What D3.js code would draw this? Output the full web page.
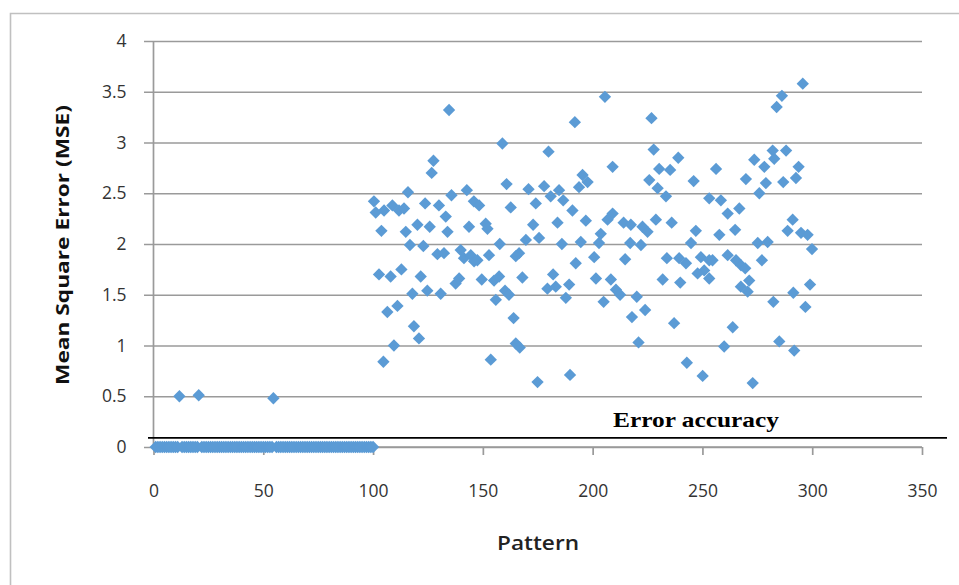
<!DOCTYPE html>
<html>
<head>
<meta charset="utf-8">
<script src="https://cdn.jsdelivr.net/npm/d3@7/dist/d3.min.js"></script>
<style>
  html, body { margin: 0; padding: 0; background: #fff; }
  svg { display: block; }
</style>
</head>
<body>
<svg id="chart" width="959" height="585"></svg>
<script>
// ---------------- DATA ----------------
const xTicks = [0, 50, 100, 150, 200, 250, 300, 350];
const yTicks = [0, 0.5, 1, 1.5, 2, 2.5, 3, 3.5, 4];

// patterns 1..100 that converged to (practically) zero error
const zeroPatterns = [1,2,3,4,5,6,7,8,9,10,11,13,14,15,16,17,18,19,20,22,23,24,25,26,27,28,29,30,
  31,32,33,34,35,36,37,38,39,40,41,42,43,44,45,46,47,48,49,50,51,52,53,54,56,57,58,59,60,
  61,62,63,64,65,66,67,68,69,70,71,72,73,74,75,76,77,78,79,80,81,82,83,84,85,86,87,88,89,90,
  91,92,93,94,95,96,97,98,99,100];
const zeroMse = zeroPatterns.map(() => 0);

// the few early patterns with a small error
const lowPatterns = [11.8, 20.6, 54.6];
const lowMse = [0.50, 0.51, 0.48];

// patterns 101..300
const patterns = [
  134.6,127.5,126.7,115.9,135.7,142.7,145.9,100.4,101.2,105.0,108.8,111.8,114.1,123.7,130.0,133.1,
  103.8,114.9,120.2,125.8,133.9,143.7,116.8,122.9,129.3,132.3,139.9,141.4,144.5,146.0,102.7,108.0,
  112.9,121.7,137.6,139.2,117.9,124.7,130.8,106.5,111.1,118.6,120.9,109.5,104.7,
  191.9,158.9,179.9,160.8,170.8,177.9,184.7,195.4,197.7,193.8,148.3,162.7,174.1,180.9,186.6,190.8,
  151.3,152.1,172.9,184.0,196.9,157.7,169.6,175.6,186.0,194.6,152.8,147.5,166.5,165.0,192.3,200.7,
  149.5,155.1,157.4,168.0,182.0,179.4,183.2,189.3,201.5,155.9,160.1,161.9,187.8,164.0,165.0,166.8,
  153.6,174.9,189.7,
  205.6,226.8,227.8,239.0,209.1,230.3,235.3,225.8,246.0,229.6,233.4,253.1,209.1,206.8,214.1,217.4,
  222.7,225.0,228.8,236.0,247.0,203.7,202.9,217.1,222.0,244.8,214.8,233.8,239.4,242.5,249.3,250.8,
  247.8,208.3,231.9,239.9,210.6,212.5,220.1,205.0,223.9,217.9,237.1,220.9,242.9,250.1,
  295.7,286.2,283.8,282.0,288.1,273.6,278.2,282.7,293.8,256.2,269.8,278.9,286.8,292.6,275.9,258.4,
  261.5,266.8,264.9,291.1,288.8,294.9,297.9,257.7,275.2,279.7,299.9,253.1,254.6,261.5,265.3,267.6,
  269.5,277.1,253.1,271.3,267.5,270.6,299.0,282.3,291.4,296.9,263.8,259.9,285.0,291.8,272.9
];
const mse = [
  3.32,2.82,2.70,2.51,2.48,2.53,2.42,2.42,2.31,2.33,2.38,2.33,2.35,2.40,2.38,2.27,
  2.13,2.12,2.19,2.17,2.12,2.17,1.99,1.98,1.90,1.91,1.94,1.86,1.89,1.83,1.70,1.68,
  1.75,1.68,1.61,1.66,1.51,1.54,1.51,1.33,1.39,1.19,1.07,1.00,0.84,
  3.20,2.99,2.91,2.59,2.54,2.57,2.53,2.68,2.61,2.56,2.38,2.36,2.40,2.47,2.43,2.33,
  2.20,2.15,2.19,2.21,2.23,2.00,2.04,2.06,2.00,2.02,1.89,1.84,1.91,1.88,1.81,1.87,
  1.65,1.64,1.68,1.67,1.70,1.56,1.58,1.60,1.66,1.45,1.54,1.50,1.47,1.27,1.02,0.98,
  0.86,0.64,0.71,
  3.45,3.24,2.93,2.85,2.76,2.74,2.73,2.63,2.62,2.55,2.47,2.45,2.30,2.24,2.21,2.19,
  2.17,2.12,2.24,2.21,2.13,2.10,2.01,2.01,1.99,2.01,1.85,1.86,1.86,1.81,1.87,1.74,
  1.71,1.65,1.65,1.62,1.55,1.50,1.48,1.43,1.35,1.28,1.22,1.03,0.83,0.70,
  3.58,3.46,3.35,2.92,2.92,2.83,2.76,2.84,2.76,2.74,2.64,2.60,2.61,2.65,2.50,2.43,
  2.30,2.35,2.14,2.24,2.13,2.11,2.09,2.09,2.01,2.02,1.95,1.84,1.84,1.89,1.84,1.79,
  1.76,1.84,1.66,1.64,1.58,1.53,1.60,1.43,1.52,1.38,1.18,0.99,1.04,0.95,0.63
];

const xTitle = "Pattern";
const yTitle = "Mean Square Error (MSE)";
const annotation = "Error accuracy";
const annotationLevel = 0.09;   // level of the black threshold line, in MSE units

// ---------------- CHART ----------------
const svg = d3.select("#chart");
const W = 959, H = 585;
const plot = { left: 153.5, right: 922, top: 41, bottom: 447 };

const x = d3.scaleLinear().domain([0, 350]).range([plot.left, plot.right]);
const y = d3.scaleLinear().domain([0, 4]).range([plot.bottom, plot.top]);

const gridColor = "#9a9a9a";
const labelFont = "'Open Sans', 'Noto Sans', sans-serif";
const tickFontSize = 17.5;

// outer chart border
svg.append("path")
  .attr("d", `M10.5,${H + 2} V13.5 H${W + 2}`)
  .attr("fill", "none")
  .attr("stroke", "#c0c0c0")
  .attr("stroke-width", 1.6);

// horizontal gridlines (with tick stubs to the left)
const yAxis = d3.axisLeft(y).tickValues(yTicks).tickSize(-(plot.right - plot.left))
  .tickFormat(d3.format("~g"));
const gy = svg.append("g").attr("transform", `translate(${plot.left},0)`).call(yAxis);
gy.select(".domain").remove();
gy.selectAll(".tick line")
  .attr("x1", -9.5)
  .attr("stroke", gridColor).attr("stroke-width", 1.7);
gy.selectAll(".tick text")
  .attr("x", -27)
  .attr("font-family", labelFont).attr("font-size", tickFontSize).attr("fill", "#333");

// vertical y axis line
svg.append("line")
  .attr("x1", plot.left).attr("x2", plot.left)
  .attr("y1", y(4)).attr("y2", y(0))
  .attr("stroke", gridColor).attr("stroke-width", 1.7);

// x axis
const xAxis = d3.axisBottom(x).tickValues(xTicks).tickSize(8).tickPadding(30)
  .tickFormat(d3.format("d"));
const gx = svg.append("g").attr("transform", `translate(0,${plot.bottom})`).call(xAxis);
gx.select(".domain").attr("stroke", gridColor).attr("stroke-width", 1.7)
  .attr("d", `M${plot.left},0H${plot.right}`);
gx.selectAll(".tick line").attr("stroke", gridColor).attr("stroke-width", 1.7);
gx.selectAll(".tick text")
  .attr("font-family", labelFont).attr("font-size", tickFontSize).attr("fill", "#333");

// black threshold line ("Error accuracy")
svg.append("line")
  .attr("x1", 148).attr("x2", 947)
  .attr("y1", y(annotationLevel)).attr("y2", y(annotationLevel))
  .attr("stroke", "#000").attr("stroke-width", 1.6);

svg.append("text")
  .attr("x", 696).attr("y", y(annotationLevel) - 11)
  .attr("text-anchor", "middle")
  .attr("font-family", "'Liberation Serif', 'DejaVu Serif', serif")
  .attr("font-weight", "bold").attr("font-size", 21)
  .attr("textLength", 166).attr("lengthAdjust", "spacingAndGlyphs")
  .attr("fill", "#000")
  .text(annotation);

// markers
const diamond = d3.symbol().type(d3.symbolSquare).size(76)();
const markerColor = "#5b9bd5";

function drawSeries(xs, ys) {
  svg.append("g").selectAll("path")
    .data(xs.map((v, i) => [v, ys[i]]))
    .join("path")
    .attr("d", diamond)
    .attr("transform", d => `translate(${x(d[0])},${y(d[1])}) rotate(45)`)
    .attr("fill", markerColor);
}
drawSeries(zeroPatterns, zeroMse);
drawSeries(lowPatterns, lowMse);
drawSeries(patterns, mse);

// axis titles
svg.append("text")
  .attr("x", 538).attr("y", 550)
  .attr("text-anchor", "middle")
  .attr("font-family", labelFont).attr("font-weight", 600).attr("font-size", 19)
  .attr("textLength", 82).attr("lengthAdjust", "spacingAndGlyphs")
  .attr("fill", "#222")
  .text(xTitle);

svg.append("text")
  .attr("transform", `translate(69,245) rotate(-90)`)
  .attr("text-anchor", "middle")
  .attr("font-family", labelFont).attr("font-weight", "bold").attr("font-size", 18)
  .attr("textLength", 280).attr("lengthAdjust", "spacingAndGlyphs")
  .attr("fill", "#111")
  .text(yTitle);
</script>
</body>
</html>
